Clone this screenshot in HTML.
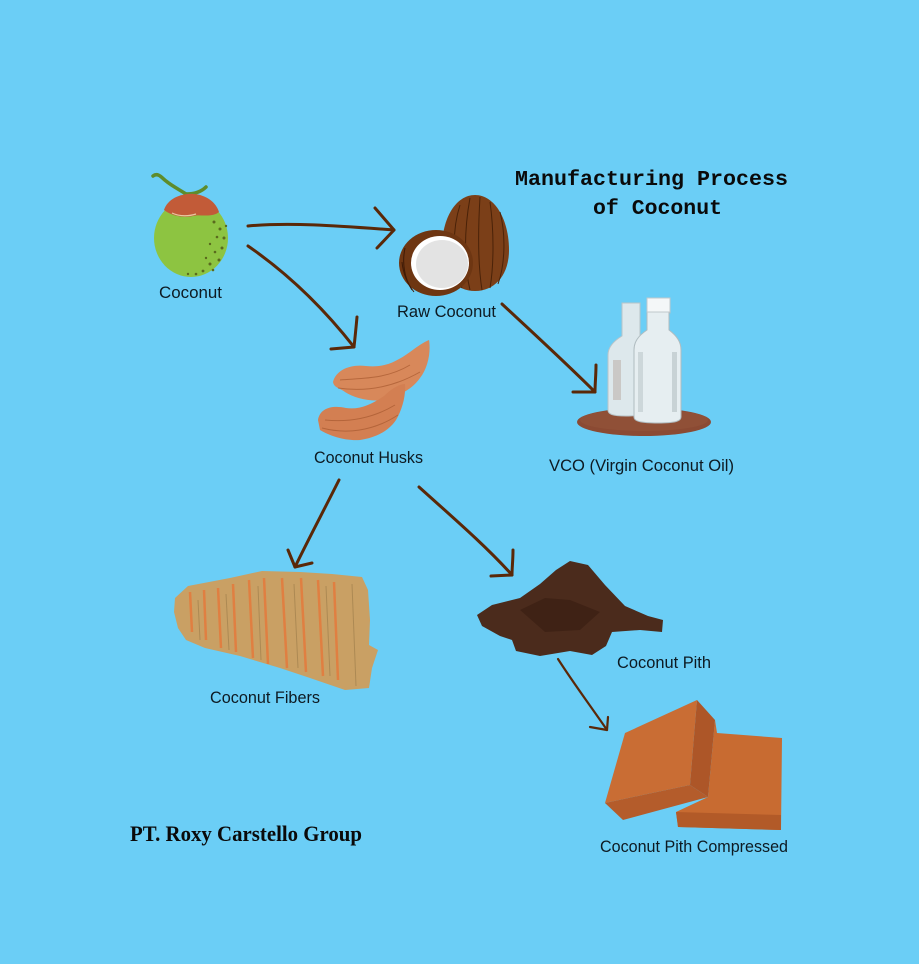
<!DOCTYPE html>
<html>
<head>
<meta charset="utf-8">
<style>
html,body{margin:0;padding:0;background:#6bcef6;}
svg{display:block;}
.lbl{font-family:"Liberation Sans",sans-serif;font-size:17px;fill:#0d1a22;}
.arr{fill:none;stroke:#5a2808;stroke-width:3;stroke-linecap:round;stroke-linejoin:round;}
</style>
</head>
<body>
<svg width="919" height="964" viewBox="0 0 919 964" xmlns="http://www.w3.org/2000/svg">
<rect x="0" y="0" width="919" height="964" fill="#6bcef6"/>

<!-- Title -->
<text x="515" y="185" font-family="'Liberation Mono',monospace" font-weight="bold" font-size="21.5" fill="#0a0a0a" textLength="273" lengthAdjust="spacingAndGlyphs">Manufacturing Process</text>
<text x="593" y="214" font-family="'Liberation Mono',monospace" font-weight="bold" font-size="21.5" fill="#0a0a0a" textLength="129" lengthAdjust="spacingAndGlyphs">of Coconut</text>

<!-- Green coconut -->
<path d="M153,176 C158,172 162,178 166,181 C172,186 180,190 186,194" fill="none" stroke="#5e8c2c" stroke-width="3.5" stroke-linecap="round"/>
<path d="M186,194 C195,194 202,191 206,187" fill="none" stroke="#5e8c2c" stroke-width="3.5" stroke-linecap="round"/>
<ellipse cx="191" cy="238" rx="37" ry="39" fill="#8dc441"/>
<path d="M164,210 C168,198 182,193 194,194 C206,195 216,202 219,212 C212,218 200,214 193,216 C183,218 172,216 164,210 Z" fill="#c25b38"/>
<path d="M172,213 C180,217 190,216 196,214" fill="none" stroke="#e8c8a0" stroke-width="1.2"/>
<g fill="#5a6a1e">
<circle cx="214" cy="222" r="1.5"/><circle cx="220" cy="229" r="1.5"/><circle cx="224" cy="238" r="1.5"/><circle cx="217" cy="237" r="1.3"/>
<circle cx="222" cy="248" r="1.5"/><circle cx="215" cy="252" r="1.3"/><circle cx="219" cy="260" r="1.5"/><circle cx="210" cy="264" r="1.5"/>
<circle cx="213" cy="270" r="1.3"/><circle cx="203" cy="271" r="1.4"/><circle cx="196" cy="274" r="1.3"/><circle cx="206" cy="258" r="1.2"/>
<circle cx="188" cy="274" r="1.2"/><circle cx="226" cy="226" r="1.2"/><circle cx="210" cy="244" r="1.2"/>
</g>
<text class="lbl" x="159" y="298" textLength="63" lengthAdjust="spacingAndGlyphs">Coconut</text>

<!-- Raw coconut -->
<path d="M475,195 C495,195 509,220 509,250 C509,275 495,291 475,291 C455,291 442,275 442,248 C442,218 456,195 475,195 Z" fill="#7b3f18"/>
<g stroke="#4a2208" stroke-width="1" fill="none">
<path d="M460,205 C452,230 452,265 462,288"/><path d="M470,198 C464,230 464,265 470,290"/>
<path d="M480,197 C478,230 478,265 482,290"/><path d="M490,202 C494,230 494,265 490,288"/>
<path d="M500,212 C506,235 505,265 498,284"/>
</g>
<ellipse cx="436" cy="263" rx="37" ry="33" fill="#6e3612"/>
<g stroke="#3e1a06" stroke-width="1" fill="none">
<path d="M405,248 C402,262 404,278 412,290"/><path d="M402,262 C403,272 406,282 414,292"/>
</g>
<ellipse cx="440" cy="263" rx="29" ry="27" fill="#ffffff"/>
<ellipse cx="442" cy="264" rx="26" ry="24" fill="#e3e3e3"/>
<text class="lbl" x="397" y="317" textLength="99" lengthAdjust="spacingAndGlyphs">Raw Coconut</text>

<!-- VCO bottles -->
<ellipse cx="644" cy="422" rx="67" ry="14" fill="#8b4a33"/>
<ellipse cx="644" cy="420" rx="64" ry="11" fill="#95553b" opacity="0.6"/>
<path d="M622,303 L640,303 L640,336 C644,342 645,348 645,355 L645,410 C645,414 640,416 626,416 C612,416 608,414 608,410 L608,355 C608,348 612,342 622,336 Z" fill="#dde8ec" stroke="#b8c4c8" stroke-width="1"/>
<rect x="613" y="360" width="8" height="40" fill="#b8a8a0" opacity="0.5"/>
<path d="M647,298 L670,298 L670,313 L669,313 L669,330 C677,336 681,342 681,350 L681,417 C681,421 676,423 658,423 C640,423 634,421 634,417 L634,350 C634,342 638,336 647,330 L647,313 L647,313 Z" fill="#e6eef1" stroke="#b0bcc0" stroke-width="1"/>
<rect x="647" y="298" width="23" height="14" fill="#f4f7f8" stroke="#c0c8cc" stroke-width="1"/>
<rect x="638" y="352" width="5" height="60" fill="#cdd7da"/>
<rect x="672" y="352" width="5" height="60" fill="#c8d2d5"/>
<text class="lbl" x="549" y="471" textLength="185" lengthAdjust="spacingAndGlyphs">VCO (Virgin Coconut Oil)</text>

<!-- Husks -->
<path d="M333,382 C336,370 350,364 366,366 C384,368 396,362 410,352 C418,346 424,342 429,340 C431,352 428,368 420,378 C410,392 396,396 384,400 C370,402 354,398 345,392 C340,388 334,388 333,382 Z" fill="#d8885a"/>
<path d="M318,420 C320,408 332,405 346,408 C360,410 372,404 384,396 C392,388 400,384 405,384 C406,396 402,410 396,420 C388,432 374,438 360,440 C345,441 330,436 320,430 Z" fill="#d37f52"/>
<g stroke="#a85a30" stroke-width="1" fill="none" opacity="0.7">
<path d="M340,380 C360,378 385,380 410,365"/><path d="M338,388 C365,392 392,388 420,372"/>
<path d="M325,420 C345,422 370,420 395,405"/><path d="M322,428 C345,434 372,432 398,415"/>
</g>
<text class="lbl" x="314" y="463" textLength="109" lengthAdjust="spacingAndGlyphs">Coconut Husks</text>

<!-- Fibers -->
<path d="M175,598 L188,586 L230,578 L262,571 L300,572 L332,574 L362,577 L368,590 L370,620 L369,645 L378,650 L372,668 L369,688 L345,690 L310,678 L280,668 L240,656 L205,648 L186,640 L178,628 L174,612 Z" fill="#c9a064"/>
<g stroke="#e57a3c" stroke-width="2.5" fill="none" opacity="0.85">
<path d="M190,592 L192,632"/><path d="M204,590 L206,640"/><path d="M218,588 L221,648"/>
<path d="M233,584 L236,652"/><path d="M249,580 L253,658"/><path d="M264,578 L268,664"/>
<path d="M282,578 L287,668"/><path d="M301,578 L306,672"/><path d="M318,580 L323,676"/><path d="M334,582 L338,680"/>
</g>
<g stroke="#9a7a48" stroke-width="1" fill="none" opacity="0.6">
<path d="M198,600 L200,640"/><path d="M226,594 L229,650"/><path d="M258,586 L261,660"/><path d="M294,584 L298,668"/><path d="M326,586 L330,676"/><path d="M352,584 L356,686"/>
</g>
<text class="lbl" x="210" y="703" textLength="110" lengthAdjust="spacingAndGlyphs">Coconut Fibers</text>

<!-- Pith -->
<path d="M477,615 L492,605 L520,598 L540,584 L556,570 L570,561 L588,565 L605,585 L625,606 L648,616 L663,620 L662,632 L640,630 L612,632 L606,646 L592,655 L570,651 L540,656 L516,651 L512,640 L500,636 L482,626 Z" fill="#4b2b1c"/>
<path d="M520,610 L545,598 L570,600 L600,612 L580,630 L545,632 Z" fill="#3a1f12" opacity="0.7"/>
<text class="lbl" x="617" y="668" textLength="94" lengthAdjust="spacingAndGlyphs">Coconut Pith</text>

<!-- Compressed blocks -->
<path d="M717,733 L782,738 L781,830 L678,827 L676,812 L708,797 L715,720 Z" fill="#c86b31"/>
<path d="M676,812 L781,815 L781,830 L678,827 Z" fill="#b25a28"/>
<path d="M625,733 L697,700 L690,785 L605,803 Z" fill="#c96d34"/>
<path d="M697,700 L715,720 L708,797 L690,785 Z" fill="#ad5628"/>
<path d="M605,803 L690,785 L708,797 L623,820 Z" fill="#b45c2b"/>
<text class="lbl" x="600" y="852" textLength="188" lengthAdjust="spacingAndGlyphs">Coconut Pith Compressed</text>

<!-- Company -->
<text x="130" y="841" font-family="'Liberation Serif',serif" font-weight="bold" font-size="22" fill="#0a0a0a" textLength="232" lengthAdjust="spacingAndGlyphs">PT. Roxy Carstello Group</text>

<!-- Arrows -->
<path class="arr" d="M248,226 C290,222 340,226 394,230"/>
<path class="arr" d="M375,208 L394,230 L377,248"/>
<path class="arr" d="M248,246 C290,275 325,310 354,347"/>
<path class="arr" d="M357,317 C356,328 355,338 354,347 L331,349"/>
<path class="arr" d="M502,304 C530,330 565,362 595,392"/>
<path class="arr" d="M596,365 C596,375 595,384 595,392 L573,392"/>
<path class="arr" d="M339,480 C324,510 308,540 295,567"/>
<path class="arr" d="M288,550 L295,567 L312,563"/>
<path class="arr" d="M419,487 C450,515 485,545 512,575"/>
<path class="arr" d="M513,550 C513,560 512,568 512,575 L491,576"/>
<path class="arr" style="stroke-width:2.2" d="M558,659 C574,684 592,708 607,730"/>
<path class="arr" style="stroke-width:2.2" d="M608,717 L607,730 L590,727"/>
</svg>
</body>
</html>
